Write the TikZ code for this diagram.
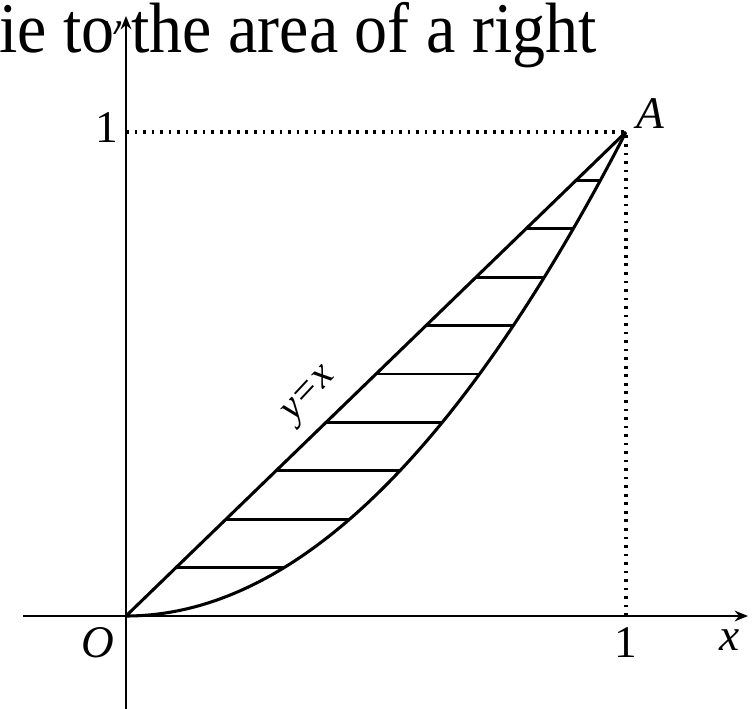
\documentclass[tikz,border=0pt]{standalone}
\usepackage{fontspec}
\setmainfont{Liberation Serif}
\usetikzlibrary{arrows.meta}
\begin{document}
\begin{tikzpicture}[x=0.75pt,y=-0.75pt,
  axis/.style={line width=2.2pt,-{Stealth[length=10pt,width=8pt]}},
  curve/.style={line width=2.3pt,line join=round},
  hatch/.style={line width=2.0pt},
  guide/.style={line width=2.3pt,dash pattern=on 2pt off 4.4pt},
  lab/.style={font=\fontsize{34}{36}\selectfont,inner sep=0pt},
  ilab/.style={font=\fontsize{34}{36}\selectfont\itshape,inner sep=0pt}]
\useasboundingbox (0,0) rectangle (756,709);
\coordinate (O) at (126,616);
\coordinate (A) at (626,132);
\coordinate (Y1) at (126,132);
\coordinate (X1) at (626,616);
\coordinate (xl) at (23,616);
\coordinate (xr) at (748,616);
\coordinate (yb) at (126,709);
\coordinate (yt) at (126,16);
% axes
\draw[axis] (xl) -- (xr);
\draw[axis] (yb) -- (yt);
% guides
\draw[guide] (Y1) -- (A) -- (X1);
% curves
\draw[curve] (O) -- (A);
\draw[curve] plot[domain=0:1,samples=80,smooth] ({126+500*\x},{616-484*\x*\x});
% hatch
\foreach \k in {1,...,9}{
  \draw[hatch] ({126+50*\k},{616-48.4*\k}) -- ({126+500*sqrt(\k/10)},{616-48.4*\k});
}
% labels
\node[lab] (one1) at (107,128) {1};
\node[lab] (one2) at (626,643) {1};
\node[ilab] (xlab) at (730,640) {x};
\node[ilab] (olab) at (98,643) {O};
\node[ilab] (alab) at (650,114) {A};
\node[font=\fontsize{30}{32}\selectfont,inner sep=0pt,rotate=47] (yx) at (311,396) {\textit{y}\kern1.5pt=\kern1.5pt\textit{x}};
\begin{scope}
\clip (106,14) rectangle (124,34);
\node[ilab] (ylab) at (112,37) {y};
\end{scope}
% top text
\node[anchor=base west,inner sep=0pt,yscale=1.08,font=\fontsize{49.5}{55}\selectfont] (top) at (-1,53) {ie to the area of a right};
\end{tikzpicture}
\end{document}
